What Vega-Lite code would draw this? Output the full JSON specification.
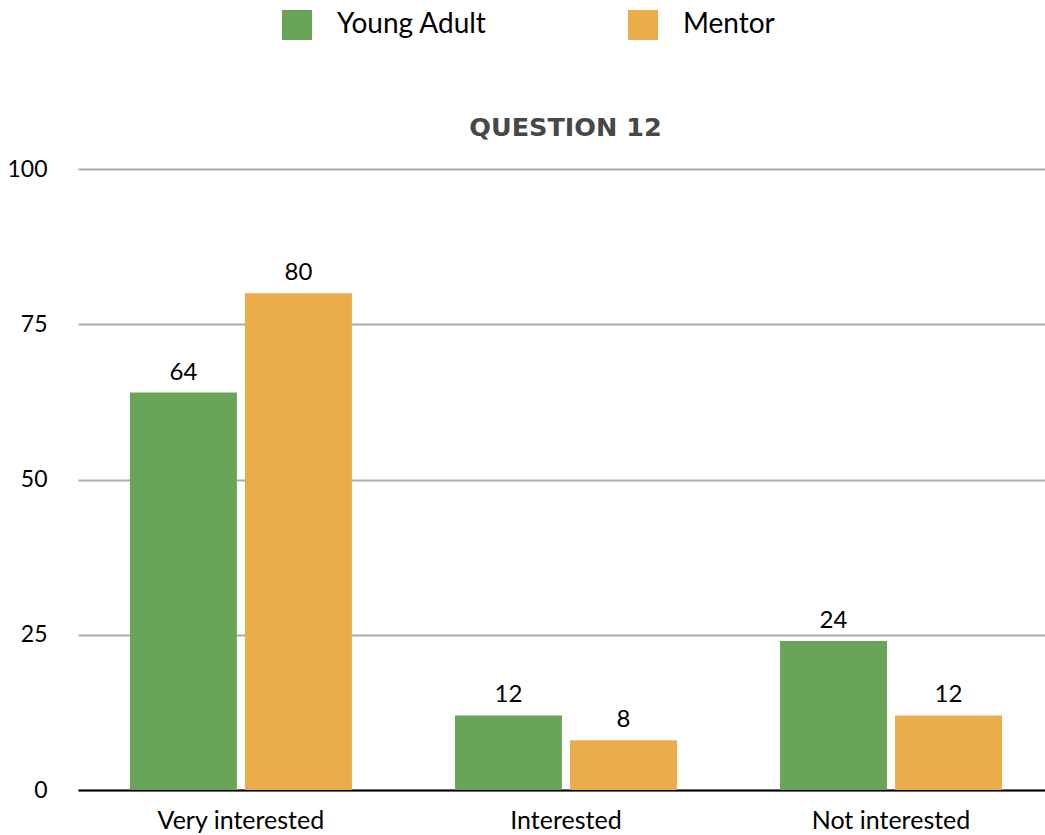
{
  "$schema": "https://vega.github.io/schema/vega-lite/v6.json",
  "autosize": {"type": "none"},
  "width": 967,
  "height": 621,
  "padding": {"left": 78, "top": 169, "right": 0, "bottom": 45},
  "background": "white",
  "title": {"text": "QUESTION 12", "fontSize": 25.5, "font": "DejaVu Sans", "fontWeight": "bold", "color": "#474747", "offset": 32, "anchor": "middle", "dx": 4, "dy": 163},
  "data": {"values": [
    {"category": "Very interested", "group": "Young Adult", "value": 64},
    {"category": "Very interested", "group": "Mentor", "value": 80},
    {"category": "Interested", "group": "Young Adult", "value": 12},
    {"category": "Interested", "group": "Mentor", "value": 8},
    {"category": "Not interested", "group": "Young Adult", "value": 24},
    {"category": "Not interested", "group": "Mentor", "value": 12}
  ]},
  "encoding": {
    "x": {"field": "category", "type": "nominal", "sort": ["Very interested", "Interested", "Not interested"],
      "scale": {"paddingInner": 0.317, "paddingOuter": 0.146, "align": 0.547},
      "axis": {"title": null, "labelAngle": 0, "labelFontSize": 25, "labelFont": "Lato", "labelColor": "#000", "labelPadding": 18, "ticks": false, "domainColor": "#000", "domainWidth": 2}},
    "xOffset": {"field": "group", "type": "nominal", "sort": ["Young Adult", "Mentor"], "scale": {"paddingInner": 0.07}},
    "y": {"field": "value", "type": "quantitative", "scale": {"domain": [0, 100]},
      "axis": {"title": null, "values": [0, 25, 50, 75, 100], "labelFontSize": 23, "labelFont": "Lato", "labelColor": "#000", "labelPadding": 31, "ticks": false, "domain": false, "gridColor": "#ababab", "gridWidth": 2}}
  },
  "layer": [
    {"mark": {"type": "bar"},
     "encoding": {"color": {"field": "group", "type": "nominal", "sort": ["Young Adult", "Mentor"],
        "scale": {"domain": ["Young Adult", "Mentor"], "range": ["#6aa459", "#ebad4b"]},
        "legend": {"title": null, "orient": "none", "direction": "horizontal", "legendX": 204, "legendY": -159, "symbolType": "square", "symbolSize": 900, "symbolStrokeWidth": 0, "symbolOpacity": 1, "labelFontSize": 28, "labelFont": "Lato", "labelColor": "#000", "labelOffset": 25, "columnPadding": 141, "padding": 0}}}},
    {"mark": {"type": "text", "baseline": "alphabetic", "dy": -13, "fontSize": 24, "font": "Lato", "color": "#000"},
     "encoding": {"text": {"field": "value", "type": "quantitative"}}}
  ],
  "config": {"view": {"stroke": null}}
}
